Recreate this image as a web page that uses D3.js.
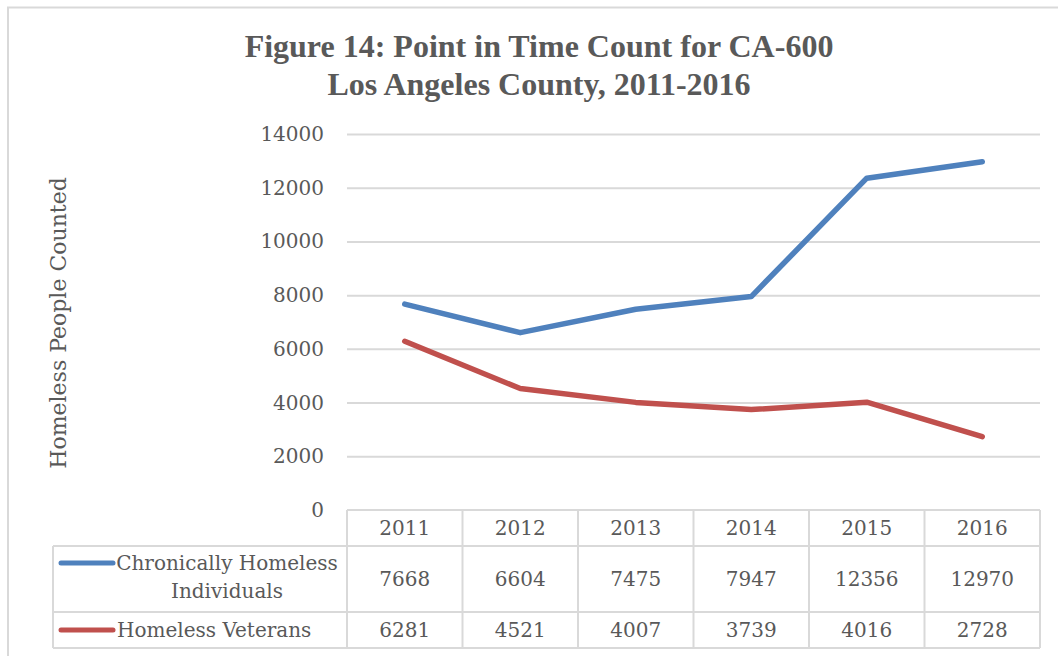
<!DOCTYPE html>
<html>
<head>
<meta charset="utf-8">
<script src="https://cdn.jsdelivr.net/npm/d3@7"></script>
<style>
  body { margin: 0; background: #fff; }
  svg text { fill: #595959; }
</style>
</head>
<body>
<div id="chart"></div>
<script>
// data
const years = ["2011", "2012", "2013", "2014", "2015", "2016"];
const chronic = [7668, 6604, 7475, 7947, 12356, 12970];
const veterans = [6281, 4521, 4007, 3739, 4016, 2728];
const seriesNames = [["Chronically Homeless", "Individuals"], ["Homeless Veterans"]];
const seriesColors = ["#4F81BD", "#C0504D"];
const yTicks = [0, 2000, 4000, 6000, 8000, 10000, 12000, 14000];

const width = 1058, height = 656;
const bodyFont = "DejaVu Serif";

const svg = d3.select("#chart").append("svg")
    .attr("width", width)
    .attr("height", height);

// outer frame (only top and left visible in the crop)
svg.append("path")
    .attr("d", "M8,656 V7.5 H1058")
    .attr("fill", "none")
    .attr("stroke", "#d9d9d9")
    .attr("stroke-width", 2);

// title
const title = svg.append("text")
    .attr("text-anchor", "middle")
    .style("font-family", "Liberation Serif")
    .style("font-weight", "bold")
    .style("font-size", "32px");
title.append("tspan").attr("x", 539).attr("y", 57).text("Figure 14: Point in Time Count for CA-600");
title.append("tspan").attr("x", 539).attr("y", 95).text("Los Angeles County, 2011-2016");

const x = d3.scaleBand().domain(years).range([347, 1040]);
const y = d3.scaleLinear().domain([0, 14000]).range([510, 134]);

// gridlines
const grid = svg.append("g")
    .attr("transform", "translate(347,0)")
    .call(d3.axisLeft(y).tickValues(yTicks.slice(1)).tickSize(-(1040 - 347)).tickFormat(""));
grid.select(".domain").remove();
grid.selectAll("line").attr("stroke", "#d9d9d9").attr("stroke-width", 2);

// y tick labels
svg.append("g").selectAll("text")
    .data(yTicks)
    .join("text")
    .attr("x", 324)
    .attr("y", d => y(d))
    .attr("dy", "0.35em")
    .attr("text-anchor", "end")
    .style("font-family", bodyFont)
    .style("font-size", "20px")
    .text(d => d);

// y axis title
svg.append("text")
    .attr("transform", "translate(58,323) rotate(-90)")
    .attr("text-anchor", "middle")
    .attr("dy", "0.35em")
    .style("font-family", bodyFont)
    .style("font-size", "22px")
    .text("Homeless People Counted");

// lines
const line = d3.line()
    .x((d, i) => x(years[i]) + x.bandwidth() / 2)
    .y(d => y(d));

[chronic, veterans].forEach((s, k) => {
    svg.append("path")
        .datum(s)
        .attr("d", line)
        .attr("fill", "none")
        .attr("stroke", seriesColors[k])
        .attr("stroke-width", 5.5)
        .attr("stroke-linejoin", "round")
        .attr("stroke-linecap", "round");
});

// data table
const rowTops = [510, 546, 612, 648];
const legendLeft = 53;
const tbl = svg.append("g")
    .attr("stroke", "#d9d9d9")
    .attr("stroke-width", 2)
    .attr("fill", "none");

// header row lines
tbl.append("line").attr("x1", 347).attr("x2", 1040).attr("y1", rowTops[0]).attr("y2", rowTops[0]);
[1, 2, 3].forEach(r => {
    tbl.append("line").attr("x1", legendLeft).attr("x2", 1040).attr("y1", rowTops[r]).attr("y2", rowTops[r]);
});
x.domain().concat([null]).forEach(yr => {
    const xx = yr === null ? 1040 : x(yr);
    tbl.append("line").attr("x1", xx).attr("x2", xx).attr("y1", rowTops[0]).attr("y2", rowTops[3]);
});
tbl.append("line").attr("x1", legendLeft).attr("x2", legendLeft).attr("y1", rowTops[1]).attr("y2", rowTops[3]);

// header years
svg.append("g").selectAll("text")
    .data(years)
    .join("text")
    .attr("x", d => x(d) + x.bandwidth() / 2)
    .attr("y", (rowTops[0] + rowTops[1]) / 2)
    .attr("dy", "0.35em")
    .attr("text-anchor", "middle")
    .style("font-family", bodyFont)
    .style("font-size", "20px")
    .text(d => d);

// value rows
[chronic, veterans].forEach((s, k) => {
    const cy = (rowTops[k + 1] + rowTops[k + 2]) / 2;
    svg.append("g").selectAll("text")
        .data(s)
        .join("text")
        .attr("x", (d, i) => x(years[i]) + x.bandwidth() / 2)
        .attr("y", cy)
        .attr("dy", "0.35em")
        .attr("text-anchor", "middle")
        .style("font-family", bodyFont)
        .style("font-size", "20px")
        .text(d => d);

    // legend key
    svg.append("line")
        .attr("x1", 61).attr("x2", 113)
        .attr("y1", k === 0 ? 563 : cy).attr("y2", k === 0 ? 563 : cy)
        .attr("stroke", seriesColors[k])
        .attr("stroke-width", 5)
        .attr("stroke-linecap", "round");

    const names = seriesNames[k];
    const lab = svg.append("text")
        .attr("text-anchor", names.length > 1 ? "middle" : "start")
        .style("font-family", bodyFont)
        .style("font-size", "20px");
    names.forEach((n, j) => {
        lab.append("tspan")
            .attr("x", names.length > 1 ? 227 : 117)
            .attr("y", names.length > 1 ? 563 + j * 28 : cy)
            .attr("dy", "0.35em")
            .text(n);
    });
});
</script>
</body>
</html>
